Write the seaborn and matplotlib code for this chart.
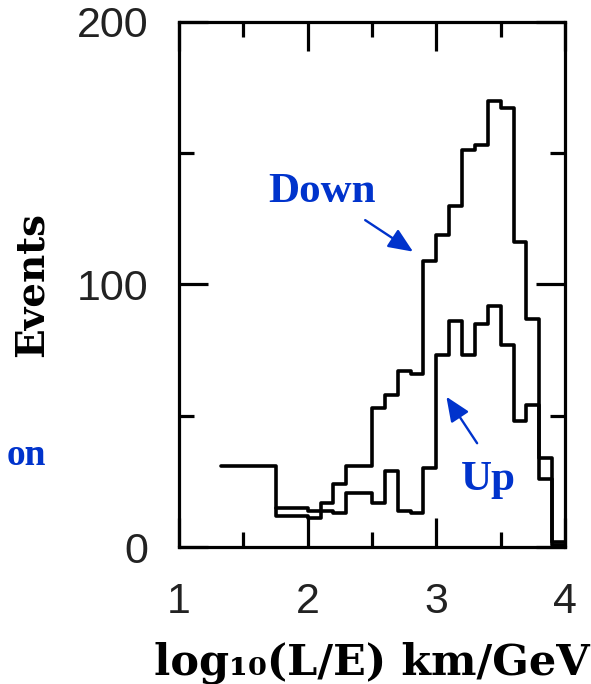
import numpy as np
import pandas as pd
import matplotlib
matplotlib.use("Agg")
import matplotlib.pyplot as plt
import seaborn as sns
from matplotlib.ticker import MultipleLocator

# Bin edges in log10(L/E) and event counts per bin
down_edges = [1.33, 1.75, 2.0, 2.1, 2.2, 2.3, 2.4, 2.5, 2.6, 2.7, 2.8, 2.9,
              3.0, 3.1, 3.2, 3.3, 3.4, 3.5, 3.6, 3.7, 3.8, 3.9, 4.0]
down_counts = [31, 12, 11, 17, 24, 31, 31, 53, 58, 67, 66, 109,
               119, 130, 151, 153, 170, 167, 116, 87, 34, 2]

up_edges = [1.75, 2.0, 2.1, 2.2, 2.3, 2.4, 2.5, 2.6, 2.7, 2.8, 2.9,
            3.0, 3.1, 3.2, 3.3, 3.4, 3.5, 3.6, 3.7, 3.8, 3.9, 4.0]
up_counts = [15, 14, 14, 13, 20.5, 20.5, 17, 29, 14, 13, 30,
             73, 86, 73, 85, 92, 77, 48, 54, 26, 1]

x_ticks = [1, 2, 3, 4]
y_ticks = [0, 100, 200]

BLUE = "#0033cc"
LW = 2.6

sns.set_style("ticks")

fig = plt.figure(figsize=(5.91, 6.84), dpi=100)
ax = fig.add_axes([179 / 591, 1 - 547.3 / 684, 386 / 591, 525.6 / 684])


def step_hist(edges, counts):
    centers = [(a + b) / 2 for a, b in zip(edges[:-1], edges[1:])]
    df = pd.DataFrame({"x": centers, "w": counts})
    sns.histplot(data=df, x="x", weights="w", bins=list(edges),
                 element="step", fill=False, color="black", linewidth=LW,
                 ax=ax)


step_hist(down_edges, down_counts)
step_hist(up_edges, up_counts)

ax.set_xlim(1, 4)
ax.set_ylim(0, 200)
ax.set_xticks(x_ticks)
ax.set_yticks(y_ticks)
ax.xaxis.set_minor_locator(MultipleLocator(0.5))
ax.yaxis.set_minor_locator(MultipleLocator(50))

for side in ax.spines.values():
    side.set_linewidth(2.3)
    side.set_color("black")

ax.tick_params(which="both", direction="in", top=True, right=True,
               width=2.3, color="black")
ax.tick_params(which="major", length=21, labelsize=31)
ax.tick_params(axis="x", which="major", pad=25)
ax.tick_params(axis="y", which="major", pad=22)
ax.tick_params(which="minor", length=10.5)
for lab in ax.get_xticklabels() + ax.get_yticklabels():
    lab.set_fontfamily("Liberation Sans")
    lab.set_color("#222222")

ax.set_xlabel("log\u2081\u2080(L/E) km/GeV", fontfamily="DejaVu Serif",
              fontweight="bold", fontsize=31, labelpad=14, color="black")
ax.set_ylabel("Events", fontfamily="DejaVu Serif", fontweight="bold",
              fontsize=28, color="black")
ax.yaxis.label.set_va("center")
ax.yaxis.set_label_coords(-0.381, 0.5)

# Direction labels with arrows
serif_bold = dict(fontfamily="Liberation Serif", fontweight="bold",
                  color=BLUE, fontsize=31)
ax.text(2.109, 131.5, "Down", ha="center", va="baseline", **serif_bold)
ax.text(3.405, 21.8, "Up", ha="center", va="baseline", **serif_bold)

arrow = dict(arrowstyle="-|>,head_length=0.75,head_width=0.32", color=BLUE,
             lw=1.7, mutation_scale=20, shrinkA=0, shrinkB=0)
ax.annotate("", xy=(2.819, 112.5), xytext=(2.447, 124.5), arrowprops=arrow)
ax.annotate("", xy=(3.078, 57.3), xytext=(3.317, 39.6), arrowprops=arrow)

fig.text(7 / 591, 1 - 465 / 684, "on", ha="left", va="baseline",
         fontfamily="Liberation Serif", fontweight="bold", color=BLUE,
         fontsize=27)

fig.savefig("out.png", dpi=100, facecolor="white")
